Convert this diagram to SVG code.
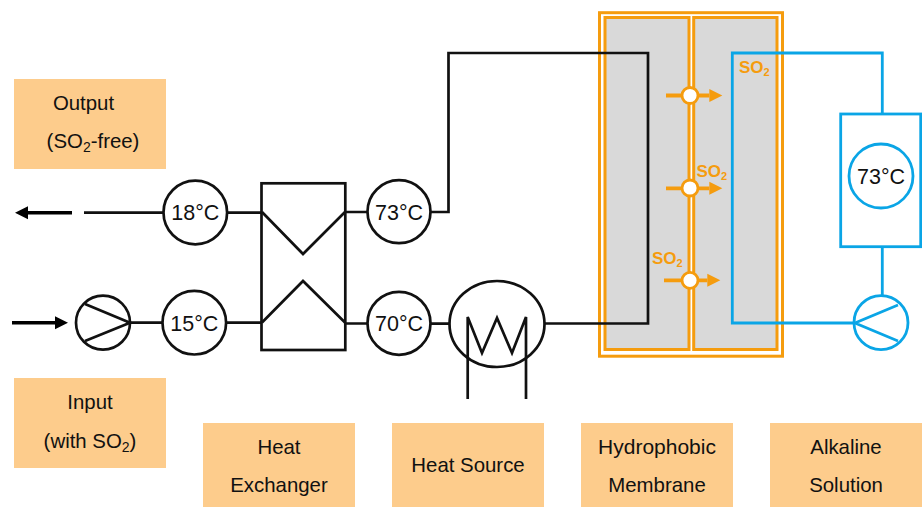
<svg xmlns="http://www.w3.org/2000/svg" width="922" height="507" viewBox="0 0 922 507">
<defs>
<marker id="bh" markerUnits="userSpaceOnUse" markerWidth="14" markerHeight="16" refX="0" refY="8" orient="auto"><path d="M0 1.500 L13 8 L0 14.500 Z" fill="#000"/></marker>
<marker id="oh" markerUnits="userSpaceOnUse" markerWidth="14" markerHeight="16" refX="0" refY="8" orient="auto"><path d="M0 1.500 L13 8 L0 14.500 Z" fill="#F59C0E"/></marker>
</defs>
<style>
text{font-family:"Liberation Sans",Arial,sans-serif;fill:#111}
.lb{fill:#FDCC8C}
.l{font-size:20.400px;text-anchor:middle}
.t{font-size:21.500px;text-anchor:middle}
.k{fill:none;stroke:#111;stroke-width:2.700}
.kc{fill:#fff;stroke:#111;stroke-width:2.700}
.b{fill:none;stroke:#0AA5E6;stroke-width:2.800}
.bc{fill:#fff;stroke:#0AA5E6;stroke-width:2.800}
.o{fill:none;stroke:#F59C0E;stroke-width:3}
.m{fill:#D9D9D9;stroke:#F59C0E;stroke-width:3}
.so{font-size:17px;font-weight:bold;fill:#F59C0E}
.so2{font-size:11px;font-weight:bold;fill:#F59C0E}
.oa{fill:none;stroke:#F59C0E;stroke-width:3.800}
.ba{fill:none;stroke:#000;stroke-width:3.600}
</style>
<g id="membrane">
<rect class="o" x="599.500" y="12.700" width="183" height="343.500"/>
<rect class="m" x="605" y="17.500" width="84" height="332"/>
<rect class="m" x="693.700" y="17.500" width="83.300" height="332"/>
</g>
<g id="connectors">
<path class="k" d="M84 212.700H163M227 212.700H262M345 212H368M431 212H448.500V53H648V323.500H545M130 322.700H162M226 322.700H262M345 323.500H368M431 323.700H449"/>
<path class="k" d="M467.700 399V317L482 353L497 318L512 353L526 317V399"/>
<path class="b" d="M855 323H732.300V53H882.300V114M882.300 247V296"/>
<path class="ba" d="M72 212.700H28" marker-end="url(#bh)"/>
<path class="ba" d="M12 322.700H55" marker-end="url(#bh)"/>
<path class="oa" d="M666 95.500H709.300" marker-end="url(#oh)"/>
<path class="oa" d="M666 188.300H709.300" marker-end="url(#oh)"/>
<path class="oa" d="M664 280.300H707.300" marker-end="url(#oh)"/>
</g>
<g id="pores">
<circle cx="690" cy="95.500" r="8" fill="#fff" stroke="#F59C0E" stroke-width="2.800"/>
<circle cx="690" cy="188" r="8" fill="#fff" stroke="#F59C0E" stroke-width="2.800"/>
<circle cx="690" cy="280.300" r="8" fill="#fff" stroke="#F59C0E" stroke-width="2.800"/>
</g>
<g id="so2-labels">
<text x="739" y="73.300" class="so">SO<tspan class="so2" dy="3">2</tspan></text>
<text x="696.500" y="177.300" class="so">SO<tspan class="so2" dy="3">2</tspan></text>
<text x="652" y="264.300" class="so">SO<tspan class="so2" dy="3">2</tspan></text>
</g>
<g id="pump-in"><circle class="kc" cx="103" cy="322.700" r="27"/><path class="k" d="M85 304L130 322.700L85 341"/></g>
<g id="t18"><circle class="kc" cx="195.300" cy="212.500" r="31.800"/><text class="t" x="195.300" y="220">18°C</text></g>
<g id="t15"><circle class="kc" cx="194.300" cy="322.700" r="31.800"/><text class="t" x="194.300" y="330.500">15°C</text></g>
<g id="hx"><rect class="k" x="261.500" y="183.300" width="83.800" height="166.700"/><path class="k" d="M262 212L303 254L345 212M262 322.500L303 281L345 322.500"/></g>
<g id="t73"><circle class="kc" cx="399" cy="211.700" r="31.500"/><text class="t" x="399" y="219.500">73°C</text></g>
<g id="t70"><circle class="kc" cx="399" cy="323.300" r="31.500"/><text class="t" x="399" y="331">70°C</text></g>
<g id="heater"><ellipse cx="497" cy="324" rx="47.500" ry="43" fill="none" stroke="#111" stroke-width="2.700"/></g>
<g id="tank"><rect class="b" x="840.700" y="114" width="80" height="132.700"/><circle class="bc" cx="881" cy="176" r="32"/><text class="t" x="881" y="183.500">73°C</text></g>
<g id="pump-out"><circle class="b" cx="881" cy="322.700" r="27"/><path class="b" d="M898 305L855 323L898 341"/></g>
<g id="label-output"><rect class="lb" x="14" y="79" width="152" height="90"/><text class="l" x="83.500" y="110">Output</text><text class="l" x="93" y="148">(SO<tspan font-size="14" dy="4">2</tspan><tspan dy="-4">-free)</tspan></text></g>
<g id="label-input"><rect class="lb" x="14" y="378" width="152" height="90"/><text class="l" x="90" y="409.300">Input</text><text class="l" x="90" y="447.500">(with SO<tspan font-size="14" dy="4">2</tspan><tspan dy="-4">)</tspan></text></g>
<g id="label-hx"><rect class="lb" x="203" y="423" width="152" height="84"/><text class="l" x="279" y="454">Heat</text><text class="l" x="279" y="492">Exchanger</text></g>
<g id="label-hs"><rect class="lb" x="392" y="423" width="152" height="84"/><text class="l" x="468" y="472">Heat Source</text></g>
<g id="label-hm"><rect class="lb" x="581" y="423" width="152" height="84"/><text class="l" x="657" y="454" font-size="21" style="font-size:21px">Hydrophobic</text><text class="l" x="657" y="492">Membrane</text></g>
<g id="label-as"><rect class="lb" x="770" y="423" width="152" height="84"/><text class="l" x="846" y="454">Alkaline</text><text class="l" x="846" y="492">Solution</text></g>
</svg>
